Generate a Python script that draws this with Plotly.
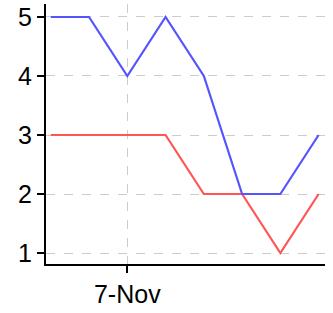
import plotly.graph_objects as go

dates = ["2022-11-05", "2022-11-06", "2022-11-07", "2022-11-08",
         "2022-11-09", "2022-11-10", "2022-11-11", "2022-11-12"]
blue_vals = [5, 5, 4, 5, 4, 2, 2, 3]
red_vals = [3, 3, 3, 3, 2, 2, 1, 2]

fig = go.Figure()
fig.add_trace(go.Scatter(x=dates, y=red_vals, mode="lines",
                         line=dict(color="#ff5555", width=2.2)))
fig.add_trace(go.Scatter(x=dates, y=blue_vals, mode="lines",
                         line=dict(color="#5555ff", width=2.2)))

fig.update_layout(
    width=333, height=313,
    margin=dict(l=46, r=8, t=4, b=49),
    paper_bgcolor="white", plot_bgcolor="white",
    showlegend=False,
    font=dict(family="Liberation Sans, Arial", size=25, color="black"),
)
fig.update_xaxes(
    type="date",
    range=["2022-11-04 21:00", "2022-11-12 04:00"],
    tick0="2022-11-07", dtick=7 * 86400000,
    tickformat="%-d-%b",
    showline=True, linecolor="black", linewidth=2,
    ticks="outside", ticklen=7, tickwidth=2, tickcolor="black",
    showgrid=True, gridcolor="#cccccc", griddash="dash", gridwidth=1,
    zeroline=False,
)
fig.update_yaxes(
    range=[0.814, 5.22],
    tickvals=[1, 2, 3, 4, 5],
    showline=True, linecolor="black", linewidth=2,
    ticks="outside", ticklen=7, tickwidth=2, tickcolor="black",
    showgrid=True, gridcolor="#cccccc", griddash="dash", gridwidth=1,
    zeroline=False,
)

fig.write_html("out.html",
               config={"displayModeBar": False},
               post_script="document.body.style.margin='0';")
